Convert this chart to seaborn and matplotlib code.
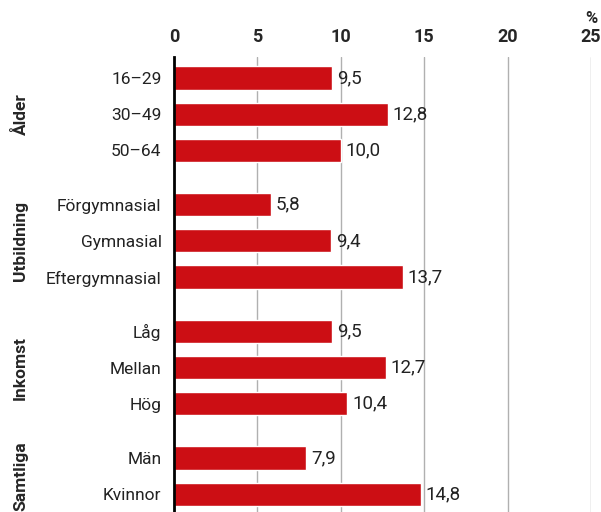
import matplotlib
matplotlib.use("Agg")
import matplotlib.pyplot as plt
import numpy as np
import pandas as pd
import seaborn as sns

# Data
groups = ["Ålder", "Utbildning", "Inkomst", "Samtliga"]
ålder_labels = ["16–29", "30–49", "50–64"]
ålder_values = [9.5, 12.8, 10.0]
utbildning_labels = ["Förgymnasial", "Gymnasial", "Eftergymnasial"]
utbildning_values = [5.8, 9.4, 13.7]
inkomst_labels = ["Låg", "Mellan", "Hög"]
inkomst_values = [9.5, 12.7, 10.4]
samtliga_labels = ["Män", "Kvinnor"]
samtliga_values = [7.9, 14.8]
x_ticks = [0, 5, 10, 15, 20, 25]

RED = "#CC0E14"


def main():
    sns.set_style("white")
    plt.rcParams['font.family'] = ['Roboto', 'DejaVu Sans']

    # Build long table, with a half-slot gap between groups
    parts = [(ålder_labels, ålder_values), (utbildning_labels, utbildning_values),
             (inkomst_labels, inkomst_values), (samtliga_labels, samtliga_values)]
    rows = []
    pos = 0.0
    for g, (labs, vals) in zip(groups, parts):
        for lab, val in zip(labs, vals):
            rows.append({"group": g, "label": lab, "value": val, "pos": pos})
            pos += 1
        pos += 0.5
    df = pd.DataFrame(rows)

    fig = plt.figure(figsize=(6.01, 5.12), dpi=100)
    ax = fig.add_axes([174 / 601, 0, 417 / 601, 455 / 512])

    sns.barplot(data=df, x="value", y="pos", orient="h", native_scale=True,
                color=RED, saturation=1, width=0.64, ax=ax, zorder=3)

    ax.set_xlim(0, 25)
    ax.set_ylim(11.99, -0.58)

    # Top x axis
    ax.xaxis.tick_top()
    ax.set_xticks(x_ticks)
    ax.set_xticklabels([str(t) for t in x_ticks], fontsize=13, fontweight="bold")
    ax.tick_params(axis="x", length=0, pad=8)
    ax.grid(axis="x", color="#b0b0b0", lw=1, zorder=0)
    ax.set_axisbelow(True)

    ax.set_yticks(df["pos"])
    ax.set_yticklabels(df["label"], fontsize=12.5, color="#222222")
    ax.tick_params(axis="y", length=0, pad=9)

    for s in ["top", "right", "bottom"]:
        ax.spines[s].set_visible(False)
    ax.spines["left"].set_color("black")
    ax.spines["left"].set_linewidth(2)
    ax.spines["left"].set_zorder(4)
    ax.set_xlabel("")
    ax.set_ylabel("")

    # Value labels
    for _, r in df.iterrows():
        ax.text(r["value"] + 0.3, r["pos"], f"{r['value']:.1f}".replace(".", ","),
                va="center", ha="left", fontsize=13.5, color="#222222", zorder=5)

    # Group labels
    trans = ax.get_yaxis_transform()
    for g in groups:
        gp = df.loc[df["group"] == g, "pos"]
        ax.text(-0.368, gp.mean(), g, rotation=90, va="center", ha="center",
                fontsize=12.5, fontweight="bold", transform=trans)

    # Unit marker above the last tick
    ax.text(25, 1 + 39 / 455, "%", transform=ax.get_xaxis_transform(), ha="center",
            va="center", fontsize=12, fontweight="bold")

    fig.savefig("out.png", dpi=100)
    plt.close(fig)


if __name__ == '__main__':
    main()
